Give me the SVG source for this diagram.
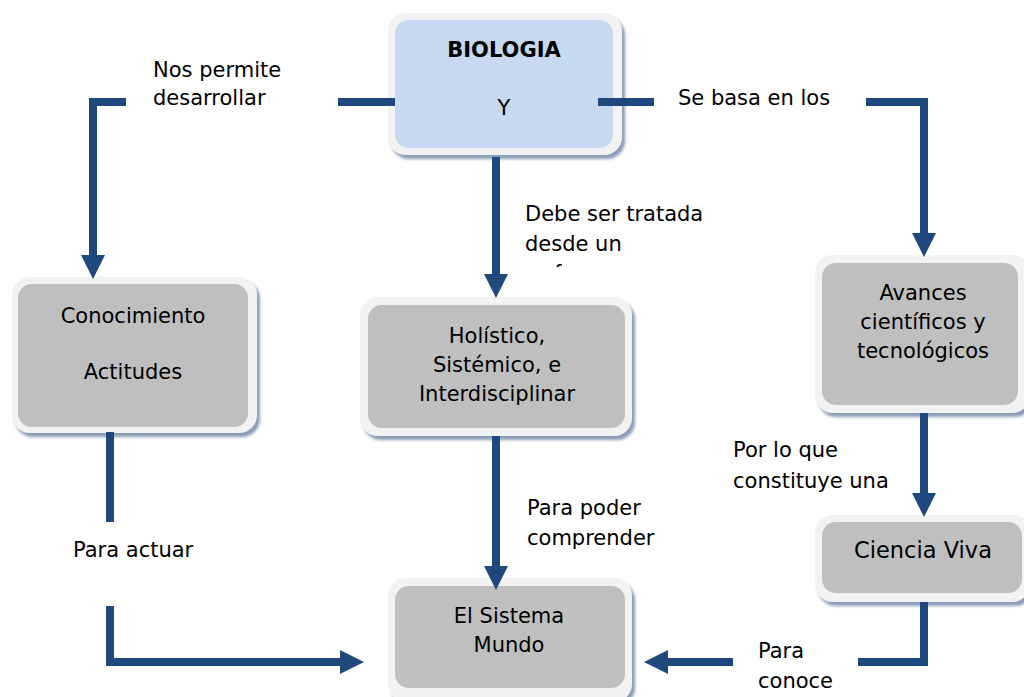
<svg xmlns="http://www.w3.org/2000/svg" width="1024" height="697" viewBox="0 0 1024 697">
  <style>
    .outer { fill: #f2f2f2; filter: url(#shadow); }
    .inner { fill: #bfbfbf; }
    .blue { fill: #c6d9f1; }
    .conn { fill: none; stroke: #1f497d; stroke-width: 8; stroke-linecap: butt; stroke-linejoin: miter; }
    .arrow { marker-end: url(#head); }
    text { font-family: "DejaVu Sans", Verdana, sans-serif; font-size: 21px; fill: #000; }
    .c { text-anchor: middle; }
    .b { font-weight: bold; }
  </style>
  <defs>
    <filter id="shadow" x="-10%" y="-10%" width="125%" height="130%">
      <feDropShadow dx="3" dy="4" stdDeviation="1.8" flood-color="#7d91ae" flood-opacity="0.9"/>
    </filter>
    <marker id="head" viewBox="0 0 24 24" markerWidth="24" markerHeight="24" markerUnits="userSpaceOnUse" refX="1" refY="12" orient="auto">
      <path d="M0,0 L24,12 L0,24 z" fill="#1f497d"/>
    </marker>
    <clipPath id="cut">
      <rect x="548" y="263" width="14" height="4"/>
    </clipPath>
  </defs>
  <rect width="1024" height="697" fill="#ffffff"/>

  <g id="biologia">
    <rect class="outer" x="388" y="13" width="234" height="142" rx="18"/>
    <rect class="blue" x="395" y="20" width="218" height="128" rx="14"/>
    <text class="c b" x="504" y="57">BIOLOGIA</text>
    <text class="c" x="504" y="115">Y</text>
  </g>

  <g id="conocimiento">
    <rect class="outer" x="12" y="277" width="245" height="156" rx="18"/>
    <rect class="inner" x="18" y="284" width="230" height="143" rx="14"/>
    <text class="c" x="133" y="323">Conocimiento</text>
    <text class="c" x="133" y="379">Actitudes</text>
  </g>

  <g id="holistico">
    <rect class="outer" x="360" y="297" width="272" height="139" rx="18"/>
    <rect class="inner" x="368" y="305" width="257" height="123" rx="14"/>
    <text class="c" x="497" y="343">Holístico,</text>
    <text class="c" x="497" y="372">Sistémico, e</text>
    <text class="c" x="497" y="401">Interdisciplinar</text>
  </g>

  <g id="avances">
    <rect class="outer" x="815" y="255" width="215" height="158" rx="18"/>
    <rect class="inner" x="822" y="263" width="196" height="142" rx="14"/>
    <text class="c" x="923" y="300">Avances</text>
    <text class="c" x="923" y="329">científicos y</text>
    <text class="c" x="923" y="358">tecnológicos</text>
  </g>

  <g id="ciencia">
    <rect class="outer" x="815" y="515" width="215" height="87" rx="18"/>
    <rect class="inner" x="822" y="522" width="200" height="71" rx="14"/>
    <text class="c" x="923" y="558" style="font-size:22.5px">Ciencia Viva</text>
  </g>

  <g id="sistema">
    <rect class="outer" x="388" y="578" width="244" height="124" rx="18"/>
    <rect class="inner" x="395" y="586" width="230" height="102" rx="14"/>
    <text class="c" x="509" y="623">El Sistema</text>
    <text class="c" x="509" y="652">Mundo</text>
  </g>

  <g id="connectors">
    <path class="conn" d="M395,102 H338"/>
    <path class="conn arrow" d="M126,102 H93 V256"/>
    <path class="conn" d="M598,102 H654"/>
    <path class="conn arrow" d="M866,102 H924 V234"/>
    <path class="conn arrow" d="M496,157 V275"/>
    <path class="conn" d="M110,432 V522"/>
    <path class="conn arrow" d="M110,606 V662 H341"/>
    <path class="conn arrow" d="M496,436 V567"/>
    <path class="conn arrow" d="M924,413 V494"/>
    <path class="conn" d="M924,602 V662 H858"/>
    <path class="conn arrow" d="M733,662 H667"/>
  </g>

  <g id="labels">
    <text x="153" y="77">Nos permite</text>
    <text x="153" y="105">desarrollar</text>
    <text x="678" y="105">Se basa en los</text>
    <text x="525" y="221">Debe ser tratada</text>
    <text x="525" y="251">desde un</text>
    <text x="528" y="280" clip-path="url(#cut)">enfoque</text>
    <text x="733" y="457">Por lo que</text>
    <text x="733" y="488">constituye una</text>
    <text x="527" y="515">Para poder</text>
    <text x="527" y="545">comprender</text>
    <text x="73" y="557">Para actuar</text>
    <text x="758" y="658">Para</text>
    <text x="758" y="688">conoce</text>
  </g>
</svg>
